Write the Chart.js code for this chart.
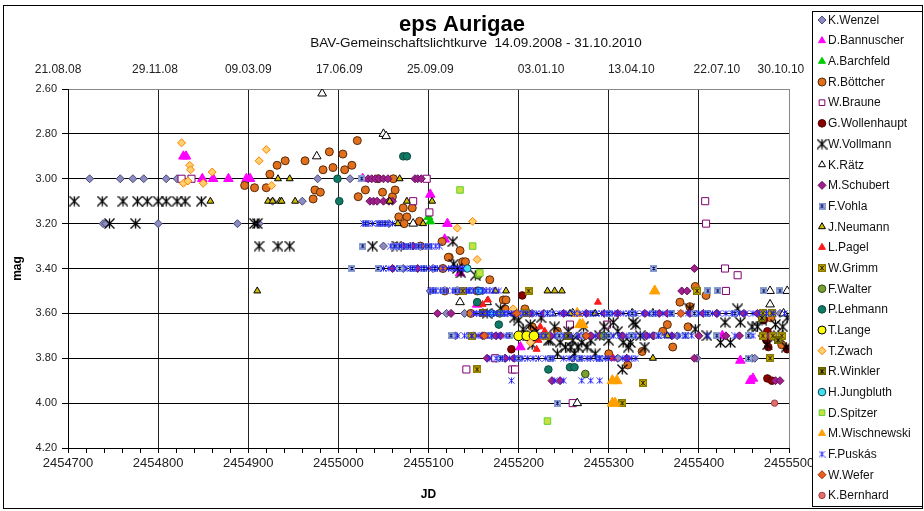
<!DOCTYPE html>
<html><head><meta charset="utf-8">
<script src="https://cdn.jsdelivr.net/npm/chart.js@4.4.1/dist/chart.umd.min.js"></script>
<style>html,body{margin:0;padding:0;background:#fff}canvas{display:block}</style>
</head><body>
<canvas id="c" width="924" height="511"></canvas>
<script>
// ---------- data (JD, mag) per observer ----------
const wenzel = [[2454724,3.0],[2454758,3.0],[2454772,3.0],[2454784,3.0],[2454809,3.0],[2454821,3.0],[2454739,3.2],[2454742,3.2],[2454800,3.2],[2454888,3.2],[2454912,3.2],[2454927,3.1],[2454960,3.1],[2454977,3.0],[2455013,3.0],[2455056,3.2],[2455064,3.3],[2455050,3.3],[2455072,3.4],[2455080,3.3],[2455102,3.5],[2455120,3.6],[2455140,3.6],[2455130,3.7],[2455160,3.5],[2455170,3.7],[2455175,3.8],[2455185,3.8],[2455215,3.6],[2455260,3.8],[2455265,3.7],[2455300,3.6],[2455310,3.8],[2455327,3.6],[2455349,3.7],[2455376,3.7],[2455398,3.8],[2455420,3.6],[2455440,3.6],[2455459,3.8],[2455462,3.8],[2455470,3.7],[2455490,3.6]];
const bannuscher = [[2454828,2.90],[2454831,2.90],[2454849,3.0],[2454861,3.0],[2454878,3.0],[2454898,3.0],[2454902,3.0],[2455027,3.0],[2455102,3.07],[2455121,3.20],[2455118,3.27],[2455135,3.42],[2455154,3.56],[2455202,3.75],[2455426,3.70],[2455446,3.81],[2455457,3.90],[2455460,3.89]];
const barchfeld = [[2455100,3.17],[2455102,3.19]];
const boettcher = [[2454896,3.03],[2454907,3.04],[2454920,3.04],[2454924,2.98],[2454932,2.94],[2454941,2.92],[2454963,2.92],[2454983,2.96],[2454990,2.88],[2454994,2.95],[2455005,2.89],[2455007,2.96],[2455015,2.94],[2455021,2.83],[2454974,3.05],[2454980,3.06],[2454972,3.09],[2455022,3.08],[2455030,3.05],[2455049,3.06],[2455060,3.08],[2455063,3.05],[2455044,3.00],[2455061,3.00],[2455072,3.13],[2455082,3.13],[2455067,3.17],[2455076,3.17],[2455090,3.19],[2455073,3.20],[2455091,3.30],[2455115,3.28],[2455135,3.32],[2455123,3.35],[2455116,3.40],[2455138,3.37],[2455132,3.50],[2455118,3.50],[2455122,3.35],[2455141,3.37],[2455154,3.50],[2455147,3.60],[2455168,3.45],[2455183,3.54],[2455186,3.54],[2455185,3.58],[2455207,3.58],[2455215,3.66],[2455228,3.70],[2455243,3.68],[2455300,3.78],[2455321,3.83],[2455337,3.77],[2455360,3.68],[2455365,3.65],[2455371,3.75],[2455379,3.55],[2455388,3.66],[2455390,3.57],[2455396,3.48],[2455408,3.52],[2455480,3.62],[2455492,3.74]];
const braune = [[2454826,3.0],[2454837,3.0],[2455098,3.0],[2455101,3.15],[2455083,3.10],[2455142,3.85],[2455174,3.80],[2455193,3.85],[2455196,3.85],[2455257,3.65],[2455298,3.65],[2455260,4.0],[2455407,3.10],[2455408,3.20],[2455429,3.40],[2455443,3.43],[2455430,3.50]];
const wollenhaupt = [[2455192,3.76],[2455204,3.52],[2455472,3.63],[2455476,3.68],[2455481,3.70],[2455475,3.72],[2455477,3.75],[2455498,3.76],[2455476,3.89],[2455481,3.90]];
const vollmann = [[2454707,3.1],[2454738,3.1],[2454761,3.1],[2454777,3.1],[2454788,3.1],[2454800,3.1],[2454809,3.1],[2454821,3.1],[2454830,3.1],[2454848,3.1],[2454746,3.2],[2454775,3.2],[2454907,3.2],[2454910,3.2],[2454912,3.3],[2454933,3.3],[2454946,3.3],[2455038,3.3],[2455065,3.3],[2455127,3.28],[2455128,3.38],[2455132,3.40],[2455136,3.42],[2455152,3.43],[2455165,3.60],[2455180,3.58],[2455195,3.62],[2455200,3.63],[2455205,3.67],[2455210,3.70],[2455213,3.65],[2455215,3.74],[2455220,3.68],[2455225,3.62],[2455233,3.72],[2455235,3.72],[2455240,3.66],[2455243,3.78],[2455246,3.73],[2455252,3.75],[2455255,3.68],[2455258,3.75],[2455260,3.72],[2455262,3.78],[2455266,3.75],[2455270,3.73],[2455272,3.66],[2455276,3.75],[2455280,3.72],[2455285,3.78],[2455290,3.70],[2455295,3.66],[2455300,3.72],[2455305,3.64],[2455310,3.68],[2455315,3.85],[2455316,3.73],[2455322,3.75],[2455324,3.73],[2455327,3.64],[2455330,3.65],[2455335,3.70],[2455340,3.75],[2455390,3.58],[2455396,3.67],[2455409,3.70],[2455424,3.73],[2455429,3.64],[2455435,3.73],[2455443,3.58],[2455446,3.64],[2455459,3.66],[2455465,3.66],[2455470,3.63],[2455476,3.74],[2455485,3.65],[2455488,3.70],[2455493,3.66],[2455497,3.75],[2455498,3.62]];
const raetz = [[2454982,2.62],[2454976,2.90],[2455050,2.80],[2455053,2.81],[2455083,3.20],[2455135,3.55],[2455165,3.55],[2455237,3.60],[2455260,3.60],[2455265,4.0],[2455326,3.60],[2455349,3.60],[2455479,3.50],[2455498,3.50],[2455479,3.56],[2455494,3.60]];
const schubert = [[2455033,3.0],[2455037,3.0],[2455041,3.0],[2455045,3.0],[2455050,3.0],[2455055,3.0],[2455085,3.0],[2455088,3.0],[2455092,3.0],[2455035,3.1],[2455039,3.1],[2455043,3.1],[2455050,3.1],[2455056,3.1],[2455060,3.1],[2455065,3.3],[2455072,3.3],[2455083,3.3],[2455060,3.4],[2455088,3.4],[2455105,3.4],[2455110,3.6],[2455125,3.6],[2455212,3.6],[2455228,3.6],[2455250,3.6],[2455275,3.6],[2455295,3.6],[2455310,3.6],[2455340,3.6],[2455356,3.6],[2455365,3.6],[2455390,3.6],[2455405,3.6],[2455420,3.6],[2455450,3.6],[2455465,3.6],[2455470,3.6],[2455150,3.7],[2455160,3.7],[2455175,3.7],[2455180,3.7],[2455200,3.7],[2455220,3.7],[2455235,3.7],[2455255,3.7],[2455270,3.7],[2455280,3.7],[2455290,3.7],[2455315,3.7],[2455342,3.7],[2455350,3.7],[2455370,3.7],[2455400,3.7],[2455430,3.7],[2455445,3.7],[2455478,3.7],[2455165,3.8],[2455185,3.8],[2455195,3.8],[2455320,3.8],[2455395,3.8],[2455237,3.9],[2455246,3.9],[2455381,3.5],[2455387,3.5],[2455395,3.4],[2455485,3.9],[2455490,3.9]];
const vohla = [[2455026,3.0],[2455030,3.2],[2455046,3.2],[2455052,3.2],[2455027,3.3],[2455062,3.3],[2455068,3.3],[2455078,3.3],[2455089,3.3],[2455100,3.3],[2455015,3.4],[2455044,3.4],[2455068,3.4],[2455082,3.4],[2455095,3.4],[2455107,3.4],[2455105,3.5],[2455117,3.5],[2455130,3.5],[2455145,3.5],[2455160,3.6],[2455184,3.6],[2455200,3.6],[2455232,3.6],[2455262,3.6],[2455282,3.6],[2455300,3.6],[2455326,3.6],[2455350,3.6],[2455370,3.6],[2455395,3.6],[2455410,3.6],[2455440,3.6],[2455480,3.6],[2455125,3.7],[2455145,3.7],[2455165,3.7],[2455190,3.7],[2455205,3.7],[2455222,3.7],[2455245,3.7],[2455272,3.7],[2455300,3.7],[2455325,3.7],[2455355,3.7],[2455385,3.7],[2455420,3.7],[2455455,3.7],[2455490,3.7],[2455180,3.8],[2455200,3.8],[2455235,3.8],[2455268,3.8],[2455290,3.8],[2455455,3.8],[2455350,3.4],[2455410,3.5],[2455421,3.5],[2455472,3.5],[2455490,3.5],[2455243,4.0]];
const neumann = [[2454858,3.1],[2454910,3.5],[2454922,3.1],[2454927,3.1],[2454935,3.1],[2454952,3.1],[2454933,3.0],[2454946,3.0],[2454937,3.1],[2455057,3.1],[2455076,3.1],[2455104,3.1],[2455068,3.0],[2455066,3.2],[2455094,3.2],[2455174,3.5],[2455186,3.5],[2455232,3.5],[2455240,3.5],[2455248,3.5],[2455195,3.6],[2455257,3.6],[2455266,3.6],[2455285,3.6],[2455365,3.7],[2455349,3.8]];
const pagel = [[2455160,3.56],[2455166,3.54],[2455220,3.76],[2455224,3.66],[2455222,3.72],[2455229,3.68],[2455288,3.55],[2455305,3.80]];
const grimm = [[2455138,3.50],[2455211,3.50],[2455148,3.70],[2455154,3.85],[2455208,3.60],[2455230,3.70],[2455315,4.0],[2455338,3.91],[2455398,3.50],[2455471,3.60],[2455481,3.60],[2455471,3.70],[2455482,3.70],[2455492,3.70],[2455479,3.80]];
const walter = [[2455155,3.43],[2455179,3.60],[2455274,3.87],[2455294,3.70]];
const lehmann = [[2454999,3.0],[2455001,3.1],[2455072,2.90],[2455076,2.90],[2455154,3.55],[2455178,3.65],[2455233,3.85],[2455257,3.84],[2455262,3.84]];
const lange = [[2455200,3.70],[2455209,3.70],[2455217,3.70]];
const zwach = [[2454826,2.84],[2454835,2.94],[2454836,2.96],[2454860,2.97],[2454828,3.02],[2454850,3.02],[2454833,3.01],[2454912,2.92],[2454920,2.87],[2454926,3.03],[2455132,3.22],[2455149,3.19],[2455154,3.36],[2455194,3.58],[2455213,3.73]];
const winkler = [[2455160,3.6],[2455255,3.7],[2455470,3.62],[2455488,3.72]];
const jungbluth = [[2455143,3.40],[2455156,3.50],[2455170,3.60]];
const spitzer = [[2455135,3.05],[2455149,3.30],[2455157,3.42],[2455232,4.08]];
const wischnewski = [[2455265,3.60],[2455268,3.65],[2455271,3.65],[2455304,3.90],[2455309,3.90],[2455304,4.0],[2455307,4.0],[2455351,3.50]];
const puskas = [[2455028,3.2],[2455033,3.2],[2455038,3.2],[2455044,3.2],[2455049,3.2],[2455055,3.2],[2455060,3.2],
 [2455058,3.3],[2455064,3.3],[2455070,3.3],[2455075,3.3],[2455080,3.3],[2455086,3.3],[2455092,3.3],[2455097,3.3],[2455103,3.3],[2455108,3.3],[2455112,3.3],
 [2455050,3.4],[2455056,3.4],[2455062,3.4],[2455075,3.4],[2455080,3.4],[2455085,3.4],[2455092,3.4],[2455098,3.4],[2455104,3.4],[2455110,3.4],[2455116,3.4],[2455122,3.4],[2455126,3.4],[2455130,3.4],[2455135,3.4],[2455138,3.4],
 [2455102,3.5],[2455108,3.5],[2455113,3.5],[2455120,3.5],[2455127,3.5],[2455134,3.5],[2455142,3.5],[2455145,3.5],[2455150,3.5],[2455155,3.5],[2455160,3.5],[2455164,3.5],[2455168,3.5],[2455172,3.5],[2455178,3.5],
 [2455150,3.6],[2455153,3.6],[2455157,3.6],[2455161,3.6],[2455165,3.6],[2455168,3.6],[2455172,3.6],[2455176,3.6],[2455180,3.6],[2455184,3.6],[2455188,3.6],[2455192,3.6],[2455196,3.6],[2455200,3.6],[2455205,3.6],[2455210,3.6],[2455215,3.6],[2455220,3.6],[2455225,3.6],[2455232,3.6],[2455238,3.6],[2455245,3.6],[2455250,3.6],[2455255,3.6],[2455262,3.6],[2455268,3.6],[2455274,3.6],[2455280,3.6],[2455286,3.6],[2455292,3.6],[2455298,3.6],[2455304,3.6],[2455310,3.6],[2455316,3.6],[2455322,3.6],[2455330,3.6],[2455338,3.6],[2455345,3.6],[2455352,3.6],[2455360,3.6],[2455368,3.6],[2455380,3.6],[2455388,3.6],[2455400,3.6],[2455407,3.6],[2455415,3.6],[2455422,3.6],[2455430,3.6],[2455437,3.6],[2455445,3.6],[2455452,3.6],[2455460,3.6],[2455467,3.6],[2455475,3.6],[2455483,3.6],[2455495,3.6],
 [2455132,3.7],[2455140,3.7],[2455148,3.7],[2455155,3.7],[2455160,3.7],[2455165,3.7],[2455170,3.7],[2455178,3.7],[2455186,3.7],[2455225,3.7],[2455230,3.7],[2455240,3.7],[2455250,3.7],[2455258,3.7],[2455266,3.7],[2455275,3.7],[2455285,3.7],[2455295,3.7],[2455305,3.7],[2455312,3.7],[2455320,3.7],[2455330,3.7],[2455338,3.7],[2455345,3.7],[2455355,3.7],[2455362,3.7],[2455370,3.7],[2455378,3.7],[2455385,3.7],[2455392,3.7],[2455410,3.7],[2455440,3.7],[2455460,3.7],
 [2455168,3.8],[2455175,3.8],[2455182,3.8],[2455190,3.8],[2455196,3.8],[2455204,3.8],[2455210,3.8],[2455216,3.8],[2455222,3.8],[2455230,3.8],[2455238,3.8],[2455250,3.8],[2455256,3.8],[2455262,3.8],[2455270,3.8],[2455276,3.8],[2455280,3.8],[2455286,3.8],[2455290,3.8],[2455296,3.8],[2455300,3.8],[2455306,3.8],[2455315,3.8],[2455320,3.8],[2455325,3.8],[2455330,3.8],
 [2455192,3.9],[2455240,3.9],[2455250,3.9],[2455270,3.9],[2455280,3.9],[2455290,3.9]];
const wefer = [[2455162,3.7],[2455198,3.6],[2455275,3.7],[2455380,3.6]];
const bernhard = [[2455484,4.0]];

// axis labels
const xTickLabelsEvery = 100;
const topDateLabels = ['21.08.08','29.11.08','09.03.09','17.06.09','25.09.09','03.01.10','13.04.10','22.07.10','30.10.10'];
const topDatePositionsJD = [2454689,2454796.5,2454900,2455001,2455102,2455225,2455325,2455420,2455491];
const titleText = 'eps Aurigae';
const subtitleText = 'BAV-Gemeinschaftslichtkurve  14.09.2008 - 31.10.2010';

// ---------- custom markers ----------
function starMarker(size, color, box, boxFill, boxStroke, lw) {
  const c = document.createElement('canvas'); c.width = size; c.height = size;
  const g = c.getContext('2d');
  if (box) { g.fillStyle = boxFill; g.fillRect(0, 0, size, size); g.strokeStyle = boxStroke; g.lineWidth = 1; g.strokeRect(0.5, 0.5, size - 1, size - 1); }
  g.strokeStyle = color; g.lineWidth = lw || 1; g.beginPath();
  const m = size / 2, p = box ? 1.5 : 0.5;
  g.moveTo(m, p); g.lineTo(m, size - p);
  g.moveTo(p, p); g.lineTo(size - p, size - p);
  g.moveTo(size - p, p); g.lineTo(p, size - p);
  g.stroke();
  return c;
}
const mkVollmann = starMarker(11, '#000', false, null, null, 1.3);
const mkVohla = starMarker(7, '#0a0a60', true, '#a8c0ec', '#8aa0d0');
const mkGrimm = starMarker(8, '#3a2a00', true, '#c8b000', '#8c7a00');
const mkWinkler = starMarker(8, '#111', true, '#968a00', '#6a6000');
const mkPuskas = starMarker(7, '#2222ff', false);

const FONT = '"Liberation Sans", Arial, sans-serif';
Chart.defaults.font.family = FONT;

function ds(label, data, style, r, bg, bc) {
  return { label, data: data.map(p => ({x: p[0], y: p[1]})), pointStyle: style, pointRadius: r, pointHoverRadius: r,
           backgroundColor: bg, borderColor: bc, borderWidth: 1, showLine: false };
}
const datasets = [
  ds('K.Wenzel', wenzel, 'rectRot', 4, '#8c8cc0', '#4a4a7a'),
  ds('D.Bannuscher', bannuscher, 'triangle', 5.5, '#ff00ff', '#ff00ff'),
  ds('A.Barchfeld', barchfeld, 'triangle', 5, '#00cc00', '#00cc00'),
  ds('R.Böttcher', boettcher, 'circle', 4, '#e0701e', '#5a2a08'),
  ds('W.Braune', braune, 'rect', 5, '#ffffff', '#800070'),
  ds('G.Wollenhaupt', wollenhaupt, 'circle', 3.8, '#8b0000', '#500000'),
  ds('W.Vollmann', vollmann, mkVollmann, 5, '#111', '#111'),
  ds('K.Rätz', raetz, 'triangle', 5, '#ffffff', '#000000'),
  ds('M.Schubert', schubert, 'rectRot', 4, '#a0208c', '#6a1060'),
  ds('F.Vohla', vohla, mkVohla, 3.5, '#a8c0ec', '#0a0a60'),
  ds('J.Neumann', neumann, 'triangle', 4, '#d0bc00', '#000000'),
  ds('L.Pagel', pagel, 'triangle', 4, '#ff1a1a', '#ff1a1a'),
  ds('W.Grimm', grimm, mkGrimm, 4, '#c8b000', '#3a2a00'),
  ds('F.Walter', walter, 'circle', 3.8, '#7aa032', '#2a4a10'),
  ds('P.Lehmann', lehmann, 'circle', 3.8, '#107a66', '#0a4a3c'),
  ds('T.Lange', lange, 'circle', 4.8, '#ffff00', '#000000'),
  ds('T.Zwach', zwach, 'rectRot', 4, '#ffd070', '#ff8000'),
  ds('R.Winkler', winkler, mkWinkler, 4, '#968a00', '#111'),
  ds('H.Jungbluth', jungbluth, 'circle', 3.8, '#40e0f0', '#104050'),
  ds('D.Spitzer', spitzer, 'rect', 4.6, '#c8e040', '#60d030'),
  ds('M.Wischnewski', wischnewski, 'triangle', 6, '#ffa000', '#ffa000'),
  ds('F.Puskás', puskas, mkPuskas, 3.5, '#2222ff', '#2222ff'),
  ds('W.Wefer', wefer, 'rectRot', 4, '#e86020', '#a03000'),
  ds('K.Bernhard', bernhard, 'circle', 3.2, '#e07070', '#a04040')
];
datasets.forEach((d, i) => { d.order = -i; });

const decor = {
  id: 'decor',
  beforeDraw(chart) {
    const ctx = chart.ctx; ctx.save(); ctx.fillStyle = '#fff'; ctx.fillRect(0, 0, chart.width, chart.height); ctx.restore();
  },
  afterDraw(chart) {
    const ctx = chart.ctx;
    ctx.save();
    // subtitle
    ctx.fillStyle = '#111'; ctx.font = '13.5px ' + FONT; ctx.textAlign = 'center'; ctx.textBaseline = 'middle';
    ctx.fillText(subtitleText, 476, 43.5);
    // frames
    ctx.strokeStyle = '#000'; ctx.lineWidth = 1;
    ctx.strokeRect(3.5, 5.5, 919, 503);
    ctx.fillStyle = '#fff';
    ctx.fillRect(812.5, 11.5, 110, 495);
    ctx.strokeRect(812.5, 11.5, 110, 495);
    chart.data.datasets.forEach((d, i) => {
      const y = 20 + i * 20.67;
      ctx.fillStyle = d.backgroundColor; ctx.strokeStyle = d.borderColor; ctx.lineWidth = 1;
      Chart.helpers.drawPoint(ctx, {pointStyle: d.pointStyle, radius: Math.min(d.pointRadius, 4), rotation: 0, borderWidth: 1}, 822, y);
      ctx.fillStyle = '#111'; ctx.font = '12px ' + FONT; ctx.textBaseline = 'middle'; ctx.textAlign = 'left';
      ctx.fillText(d.label, 828, y + 0.5);
    });
    ctx.restore();
  }
};

new Chart(document.getElementById('c'), {
  type: 'scatter',
  data: { datasets },
  plugins: [decor],
  options: {
    responsive: false, animation: false, devicePixelRatio: 1, events: [],
    layout: { padding: 0 },
    plugins: {
      legend: { display: false }, tooltip: { enabled: false },
      title: { display: true, text: titleText, color: '#000', font: { size: 22, weight: 'bold', family: FONT }, padding: { top: 12, bottom: 13.2 } }
    },
    scales: {
      x: {
        type: 'linear', position: 'bottom', min: 2454700, max: 2455500,
        ticks: { stepSize: 20, maxTicksLimit: 100, autoSkip: false, maxRotation: 0, padding: 3, color: '#222', font: { size: 13 },
                 callback: v => (v % xTickLabelsEvery === 0 ? String(v) : '') },
        grid: { color: c => (c.tick && c.tick.value % 100 === 0 ? (c.tick.value === 2455500 ? '#888' : '#222') : 'rgba(0,0,0,0)'),
                tickColor: '#000', tickLength: 5, lineWidth: 1 },
        border: { color: '#000' },
        title: { display: true, text: 'JD', color: '#000', font: { size: 12, weight: 'bold' }, padding: { top: 0, bottom: 9 } },
        afterFit(s) { s.height = 63; }
      },
      xTop: {
        type: 'linear', position: 'top', min: 2454700, max: 2455500,
        grid: { display: false, drawTicks: false }, border: { display: false },
        afterBuildTicks(s) { s.ticks = topDatePositionsJD.map(v => ({ value: v })); },
        ticks: { autoSkip: false, maxRotation: 0, padding: 12, color: '#222', font: { size: 12 }, callback: (v, i) => topDateLabels[i] },
        afterFit(s) { s.height = 37.4; }
      },
      y: {
        reverse: true, min: 2.6, max: 4.2,
        ticks: { stepSize: 0.2, padding: 5, color: '#222', font: { size: 11 }, callback: v => Number(v).toFixed(2) },
        grid: { color: c => (c.tick && Math.abs(c.tick.value - 2.6) < 1e-6 ? '#888' : '#000'), tickColor: '#000', tickLength: 6 },
        border: { color: '#000' },
        title: { display: true, text: 'mag', color: '#000', font: { size: 12, weight: 'bold' }, padding: { top: 10, bottom: 0 } },
        afterFit(s) { s.width = 68; }
      },
      yR: {
        position: 'right', display: true, grid: { display: false, drawTicks: false }, border: { display: false }, ticks: { display: false },
        afterFit(s) { s.width = 135; }
      }
    }
  }
});
</script>
</body></html>
